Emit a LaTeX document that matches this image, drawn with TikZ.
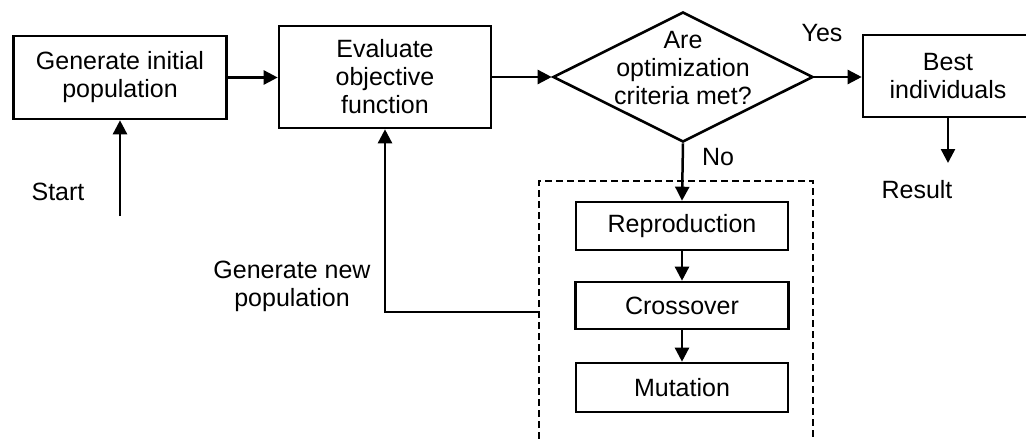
\documentclass[tikz,border=0pt]{standalone}
\usepackage{fontspec}
\setmainfont{Liberation Sans}
\usetikzlibrary{arrows.meta,shapes.geometric}
\begin{document}
\begin{tikzpicture}[x=1pt,y=-1pt,
  every node/.style={font=\fontsize{25}{28}\selectfont, align=center},
  box/.style={draw, line width=2.6pt, inner sep=0pt},
  decision/.style={draw, diamond, line width=2.6pt, inner sep=0pt,
    minimum width=260pt, minimum height=130pt},
  lbl/.style={inner sep=0pt},
  arr/.style={line width=2.5pt, -{Triangle[length=14pt,width=14pt]}},
  group/.style={line width=2.2pt, dash pattern=on 7pt off 4pt}]
  \useasboundingbox (0,0) rectangle (1026,439);
  \clip (0,0) rectangle (1026,439);

  % main flow
  \node[box, minimum width=213pt, minimum height=83pt] (gen) at (120,77.5)
    {Generate initial\\population};
  \node[box, minimum width=212pt, minimum height=102pt] (eval) at (385,77)
    {Evaluate\\objective\\function};
  \node[decision] (dec) at (683,77) {};
  \node[lbl] (q) at (683,68) {Are\\optimization\\criteria met?};
  \node[box, minimum width=170pt, minimum height=82pt] (best) at (948,76)
    {Best\\individuals};

  % genetic operators
  \node[box, minimum width=212pt, minimum height=48pt] (rep) at (682,226) {Reproduction};
  \node[box, minimum width=213pt, minimum height=47pt] (cross) at (682,305.5) {Crossover};
  \node[box, minimum width=212pt, minimum height=49pt] (mut) at (682,387.5) {Mutation};
  \draw[group] (539,450) -- (539,181) -- (813,181) -- (813,450);

  % labels
  \node[lbl] (start) at (58,192) {Start};
  \node[lbl] (result) at (917,190) {Result};
  \node[lbl] (yes) at (822,33) {Yes};
  \node[lbl] (no) at (718,157) {No};
  \node[lbl] (newpop) at (292,286.5) {Generate new\\population};

  \coordinate (st) at (120,216);
  \coordinate (res) at (948,163);
  \coordinate (fb) at (539,312);

  % connectors
  \draw[arr] (st) -- (gen.south);
  \draw[arr] (gen.east) -- (gen.east -| eval.west);
  \draw[arr] (eval.east |- dec.west) -- (dec.west);
  \draw[arr] (dec.east) -- (dec.east -| best.west);
  \draw[arr] (best.south) -- (res);
  \draw[arr] (dec.south) -- (rep.north);
  \draw[arr] (rep.south) -- (cross.north);
  \draw[arr] (cross.south) -- (mut.north);
  \draw[arr] (fb) -- (fb -| eval.south) -- (eval.south);
\end{tikzpicture}
\end{document}
